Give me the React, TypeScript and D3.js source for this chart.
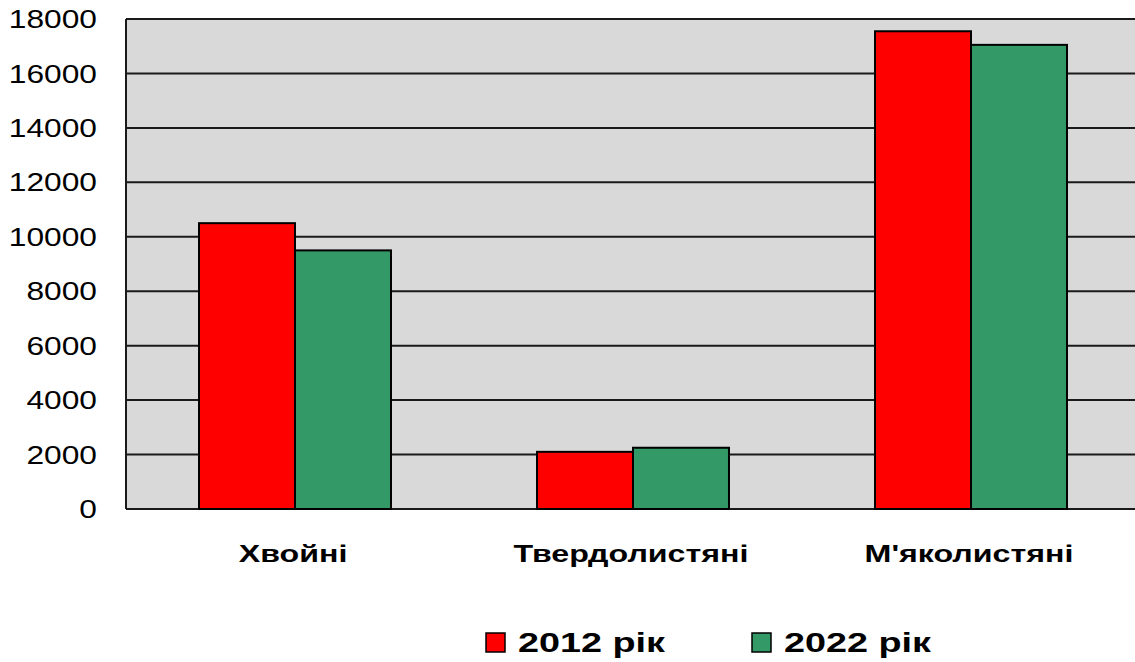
import * as d3 from "d3"

const categories = ["Хвойні", "Твердолистяні", "М'яколистяні"]
const seriesNames = ["2012 рік", "2022 рік"]
const values2012 = [10500, 2100, 17550]
const values2022 = [9500, 2250, 17050]
const yTicks = [0, 2000, 4000, 6000, 8000, 10000, 12000, 14000, 16000, 18000]
const colors = ["#ff0000", "#339966"]

const W = 1135
const H = 662
const PLOT = { left: 126, top: 19, right: 1140, bottom: 509 }

// the source picture uses a wide font, so text is stretched horizontally
const tickStretch = 1.22
const labelStretch = 1.4

export default function App() {
    const x0 = d3.scaleBand<string>().domain(categories).range([PLOT.left, PLOT.right])
    const bw = x0.bandwidth()
    const x1 = d3.scaleBand<string>().domain(seriesNames).range([bw * 0.216, bw * 0.784])
    const y = d3.scaleLinear().domain([0, 18000]).range([PLOT.bottom, PLOT.top])
    const series = [values2012, values2022]

    return (
        <div style={{ position: "absolute", left: 0, top: 0 }}>
            <svg width={W} height={H} style={{ display: "block" }} fontFamily="'Liberation Sans', Arial, sans-serif">
                <rect x={PLOT.left} y={PLOT.top} width={PLOT.right - PLOT.left} height={PLOT.bottom - PLOT.top} fill="#d9d9d9" />
                {yTicks.map((t) => (
                    <line key={t} x1={PLOT.left} x2={PLOT.right} y1={y(t)} y2={y(t)} stroke="#1a1a1a" strokeWidth={2} />
                ))}
                <line x1={PLOT.left} x2={PLOT.left} y1={PLOT.top} y2={PLOT.bottom} stroke="#1a1a1a" strokeWidth={2} />
                {yTicks.map((t) => (
                    <text
                        key={t}
                        transform={`translate(97,${y(t)}) scale(${tickStretch},1)`}
                        dy="0.35em"
                        textAnchor="end"
                        fontSize={26}
                        fill="#000"
                    >
                        {t}
                    </text>
                ))}
                {categories.map((c, i) => (
                    <g key={c}>
                        {series.map((s, j) => (
                            <rect
                                key={j}
                                x={(x0(c) as number) + (x1(seriesNames[j]) as number)}
                                y={y(s[i])}
                                width={x1.bandwidth()}
                                height={y(0) - y(s[i])}
                                fill={colors[j]}
                                stroke="#000"
                                strokeWidth={2}
                            />
                        ))}
                        <text
                            transform={`translate(${(x0(c) as number) + bw / 2 - 2},562) scale(${labelStretch},1)`}
                            textAnchor="middle"
                            fontSize={23}
                            fontWeight="bold"
                        >
                            {c}
                        </text>
                    </g>
                ))}
                {seriesNames.map((s, j) => {
                    const lx = [486, 752][j]
                    return (
                        <g key={s}>
                            <rect x={lx} y={633} width={19} height={19} fill={colors[j]} stroke="#000" strokeWidth={1.5} />
                            <text transform={`translate(${lx + 32},652) scale(${labelStretch},1)`} fontSize={27} fontWeight="bold">
                                {s}
                            </text>
                        </g>
                    )
                })}
            </svg>
        </div>
    )
}
